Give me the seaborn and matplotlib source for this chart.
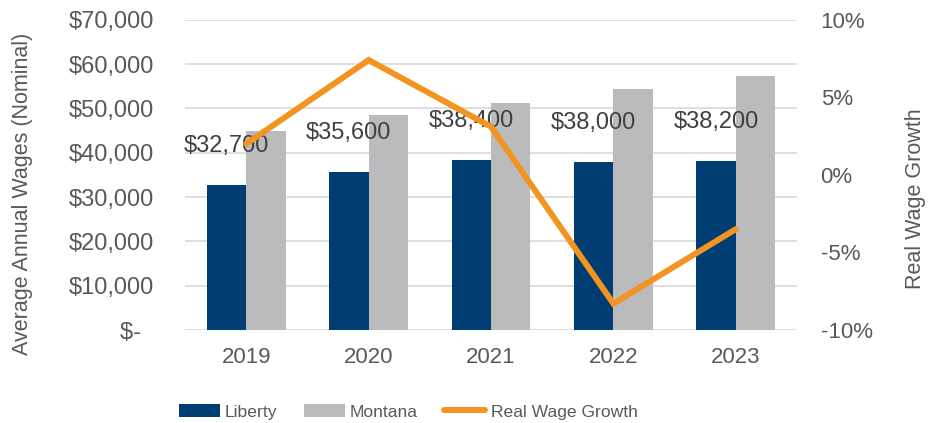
import matplotlib
matplotlib.use("Agg")
import matplotlib.pyplot as plt
import seaborn as sns
import pandas as pd
from matplotlib.patches import Patch
from matplotlib.lines import Line2D
from matplotlib.ticker import FuncFormatter, MultipleLocator

years = ["2019", "2020", "2021", "2022", "2023"]
liberty = [32700, 35600, 38400, 38000, 38200]
montana = [44900, 48500, 51200, 54400, 57300]
real_growth = [2.0, 7.4, 3.1, -8.3, -3.5]  # percent
series_names = ["Liberty", "Montana", "Real Wage Growth"]

NAVY = "#003d73"
GRAY = "#bbbbbd"
ORANGE = "#f39320"
TXT = "#595959"
LBL = "#404040"
GRID = "#d9d9d9"

sns.set_theme(style="white")
plt.rcParams["font.family"] = ["Liberation Sans", "DejaVu Sans"]

df = pd.DataFrame({
    "Year": years * 2,
    "Wage": liberty + montana,
    "Area": [series_names[0]] * len(years) + [series_names[1]] * len(years),
})
line_df = pd.DataFrame({"pos": list(range(len(years))), "growth": real_growth})

fig = plt.figure(figsize=(9.41, 4.23), dpi=100)
ax = fig.add_axes([185 / 941, 1 - 330 / 423, 612 / 941, 310.3 / 423])

sns.barplot(data=df, x="Year", y="Wage", hue="Area", order=years,
            hue_order=series_names[:2], palette=[NAVY, GRAY],
            width=0.645, saturation=1, ax=ax, legend=False,
            linewidth=0, edgecolor="none")

ax.set_ylim(0, 70000)
ax.yaxis.set_major_locator(MultipleLocator(10000))
ax.yaxis.set_major_formatter(FuncFormatter(
    lambda v, p: "$-  " if v == 0 else f"${v:,.0f}"))
ax.grid(axis="y", color=GRID, linewidth=1.2)
ax.grid(axis="x", visible=False)
ax.set_axisbelow(True)
for s in ax.spines.values():
    s.set_visible(False)
ax.tick_params(axis="y", length=0, pad=22, labelsize=17, labelcolor=TXT)
ax.tick_params(axis="x", length=0, pad=12, labelsize=16, labelcolor=TXT)
ax.set_xlabel("")
ax.set_ylabel("Average Annual Wages (Nominal)", fontsize=15.5, color=TXT)
ax.yaxis.set_label_coords(-0.248, 0.438)

# data labels on Liberty bars
ax.bar_label(ax.containers[0], labels=[f"${v:,.0f}" for v in liberty],
             padding=20, fontsize=17, color=LBL)

ax2 = ax.twinx()
sns.lineplot(data=line_df, x="pos", y="growth", color=ORANGE, linewidth=4.3,
             ax=ax2, solid_capstyle="round", solid_joinstyle="miter")
ax2.set_ylim(-10, 10)
ax2.yaxis.set_major_locator(MultipleLocator(5))
ax2.yaxis.set_major_formatter(FuncFormatter(lambda v, p: f"{v:.0f}%"))
ax2.grid(False)
for s in ax2.spines.values():
    s.set_visible(False)
ax2.tick_params(axis="y", length=0, pad=17, labelsize=16, labelcolor=TXT)
ax2.set_ylabel("Real Wage Growth", fontsize=15.5, color=TXT)
ax2.yaxis.set_label_coords(1.176, 0.422)
ax2.set_xlabel("")
ax.set_xlim(-0.5, len(years) - 0.5)

handles = [Patch(facecolor=NAVY, edgecolor="none"),
           Patch(facecolor=GRAY, edgecolor="none"),
           Line2D([0], [0], color=ORANGE, linewidth=4.3, solid_capstyle="round")]
fig.legend(handles, series_names, loc="center", ncol=3,
           bbox_to_anchor=(408 / 941, 1 - 412 / 423), frameon=False,
           prop={"family": ["Liberation Sans"], "size": 12.6},
           labelcolor=TXT, handlelength=2.35, handleheight=0.75,
           handletextpad=0.3, columnspacing=1.5, borderaxespad=0, borderpad=0)

fig.savefig("out.png", dpi=100)
